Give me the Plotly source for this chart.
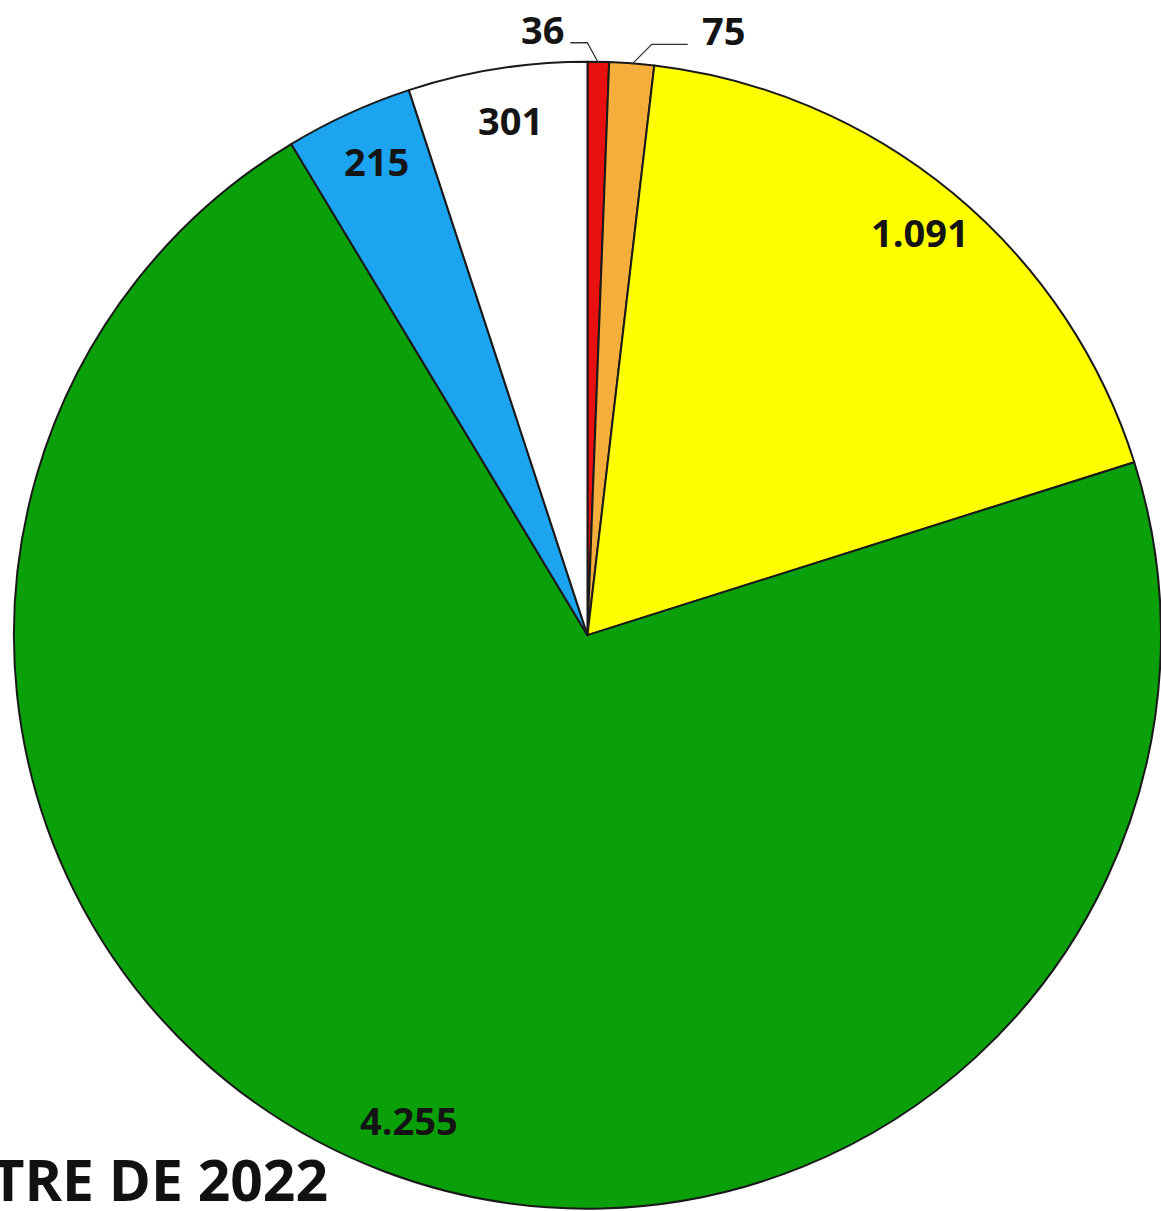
import math
import plotly.graph_objects as go

# ---- data ----
values = [36, 75, 1091, 4255, 215, 301]
labels_txt = ["36", "75", "1.091", "4.255", "215", "301"]
colors = ["#E8100F", "#F5AE3C", "#FFFF00", "#0AA00A", "#1CA4F0", "#FFFFFF"]
title_text = "STRE DE 2022"

W, H = 1161, 1211
dom_x = [0.012, 1.0]
dom_y = [0.0, 0.951]

fig = go.Figure()
fig.add_trace(go.Pie(
    values=values,
    labels=labels_txt,
    sort=False,
    direction="clockwise",
    rotation=0,
    textinfo="none",
    hoverinfo="label+value",
    showlegend=False,
    domain=dict(x=dom_x, y=dom_y),
    marker=dict(colors=colors, line=dict(color="#1a1a1a", width=2)),
))

# geometry derived from the pie domain
x0p, x1p = dom_x[0] * W, dom_x[1] * W
y0p, y1p = (1 - dom_y[1]) * H, (1 - dom_y[0]) * H
R = min(x1p - x0p, y1p - y0p) / 2
cxp, cyp = (x0p + x1p) / 2, (y0p + y1p) / 2

def to_paper(px, py):
    return px / W, 1 - py / H

total = sum(values)
cum = 0
mids = []
for v in values:
    mids.append((cum + v / 2) / total * 360)
    cum += v

def polar(angle_deg, r):
    a = math.radians(angle_deg)
    return cxp + r * math.sin(a), cyp - r * math.cos(a)

font = dict(family="Open Sans", size=38, color="#141414", weight="bold")

inside = [2, 3, 4, 5]
for i in inside:
    px, py = polar(mids[i], 0.9 * R)
    x, y = to_paper(px, py)
    fig.add_annotation(x=x, y=y, xref="paper", yref="paper", text=labels_txt[i],
                       showarrow=False, font=font, xanchor="center", yanchor="middle",
                       xshift=4, yshift=5 if i != 3 else -2)

# outside labels with elbow leader lines
outside = {0: (-1, -11, -28, -32), 1: (1, 20, 56, 68)}
for i, (side, elbow_dx, end_dx, text_dx) in outside.items():
    tx, ty = polar(mids[i], R)
    ty += 1
    ex, ey = tx + elbow_dx, ty - 20
    fx = tx + end_dx
    path = "M {} {} L {} {} L {} {}".format(*to_paper(tx, ty), *to_paper(ex, ey), *to_paper(fx, ey))
    fig.add_shape(type="path", path=path, xref="paper", yref="paper",
                  line=dict(color="#333333", width=1.3))
    lx, ly = to_paper(tx + text_dx, ey - 12)
    fig.add_annotation(x=lx, y=ly, xref="paper", yref="paper", text=labels_txt[i],
                       showarrow=False, font=font,
                       xanchor="right" if side < 0 else "left", yanchor="middle",
                       yshift=2)

# partially visible title at the bottom left
tx_, ty_ = to_paper(330, 1220)
fig.add_annotation(x=tx_, y=ty_, xref="paper", yref="paper", text=title_text,
                   showarrow=False, xanchor="right", yanchor="bottom",
                   font=dict(family="Open Sans", size=57, color="#111111", weight="bold"))

fig.update_layout(
    width=W, height=H,
    margin=dict(l=0, r=0, t=0, b=0),
    paper_bgcolor="#FFFFFF",
    plot_bgcolor="#FFFFFF",
)

fig.write_html("out.html", config={"displayModeBar": False},
               post_script="document.body.style.margin='0';document.body.style.overflow='hidden';")
